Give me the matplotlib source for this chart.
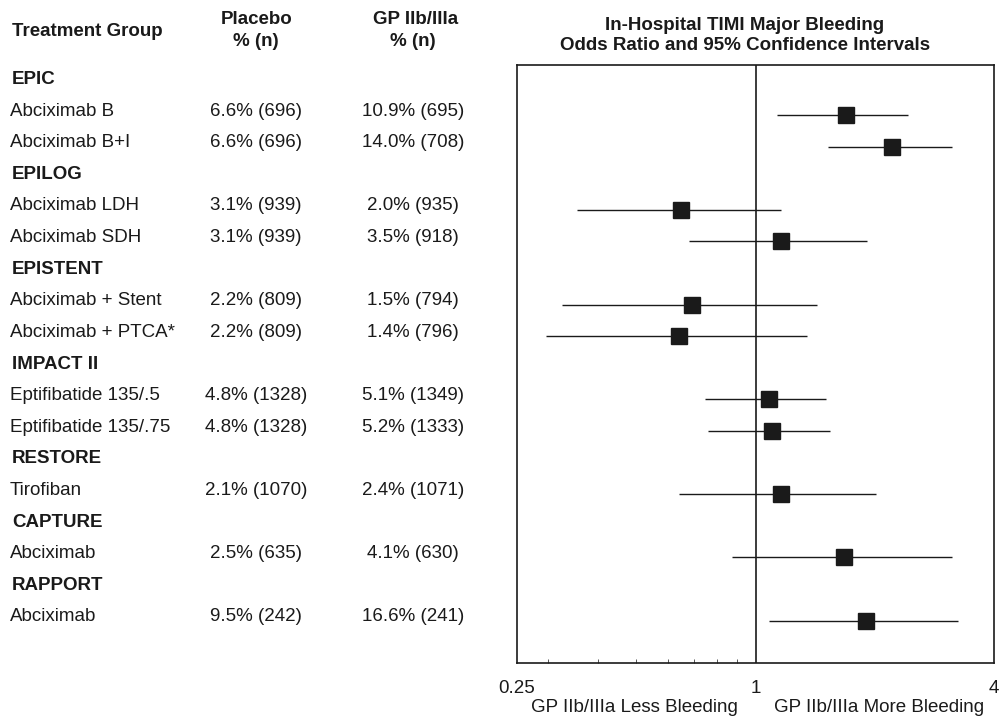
import numpy as np
import matplotlib.pyplot as plt
import matplotlib.transforms as mtransforms
from matplotlib.ticker import FixedLocator, NullFormatter

plt.rcParams['font.family'] = ['Liberation Sans', 'DejaVu Sans']

# rows of the table; group headers have no values
labels = ['EPIC', 'Abciximab B', 'Abciximab B+I',
          'EPILOG', 'Abciximab LDH', 'Abciximab SDH',
          'EPISTENT', 'Abciximab + Stent', 'Abciximab + PTCA*',
          'IMPACT II', 'Eptifibatide 135/.5', 'Eptifibatide 135/.75',
          'RESTORE', 'Tirofiban',
          'CAPTURE', 'Abciximab',
          'RAPPORT', 'Abciximab']
placebo = ['', '6.6% (696)', '6.6% (696)',
           '', '3.1% (939)', '3.1% (939)',
           '', '2.2% (809)', '2.2% (809)',
           '', '4.8% (1328)', '4.8% (1328)',
           '', '2.1% (1070)',
           '', '2.5% (635)',
           '', '9.5% (242)']
gp = ['', '10.9% (695)', '14.0% (708)',
      '', '2.0% (935)', '3.5% (918)',
      '', '1.5% (794)', '1.4% (796)',
      '', '5.1% (1349)', '5.2% (1333)',
      '', '2.4% (1071)',
      '', '4.1% (630)',
      '', '16.6% (241)']

# odds ratio and 95% CI
odds = np.array([np.nan, 1.69, 2.21, np.nan, 0.65, 1.16, np.nan, 0.69, 0.64,
                 np.nan, 1.08, 1.10, np.nan, 1.16, np.nan, 1.67, np.nan, 1.90])
ci_low = np.array([np.nan, 1.13, 1.52, np.nan, 0.355, 0.68, np.nan, 0.324, 0.296,
                   np.nan, 0.746, 0.76, np.nan, 0.641, np.nan, 0.87, np.nan, 1.08])
ci_high = np.array([np.nan, 2.43, 3.14, np.nan, 1.16, 1.91, np.nan, 1.43, 1.35,
                    np.nan, 1.51, 1.54, np.nan, 2.02, np.nan, 3.13, np.nan, 3.25])

W, H = 1000, 718
fs = 13.5
ink = '#1a1a1a'

fig = plt.figure(figsize=(W / 100, H / 100), dpi=100)
ax = fig.add_axes([517 / W, (H - 663) / H, (994 - 517) / W, (663 - 65) / H])

y = np.arange(len(labels))
m = ~np.isnan(odds)
ax.hlines(y[m], ci_low[m], ci_high[m], color=ink, lw=1.0)
ax.plot(odds[m], y[m], 's', ms=11, color=ink)
ax.axvline(1, color=ink, lw=1.2)

ax.set_xscale('log')
ax.set_xlim(0.25, 4)
ax.set_ylim(18.34, -0.58)
ax.set_yticks([])
ax.set_xticks([0.25, 1, 4])
ax.set_xticklabels(['0.25', '1', '4'])
ax.xaxis.set_minor_locator(FixedLocator([0.3, 0.4, 0.5, 0.6, 0.7, 0.8, 0.9]))
ax.xaxis.set_minor_formatter(NullFormatter())
ax.tick_params(axis='x', which='major', length=0, pad=12, labelsize=fs, colors=ink)
ax.tick_params(axis='x', which='minor', direction='in', length=3, width=0.7, color='#555555')
for s in ax.spines.values():
    s.set_linewidth(1.2)
    s.set_color(ink)

# table on the left, rows lined up with the plot
trans = mtransforms.blended_transform_factory(fig.transFigure, ax.transData)
for i, lab in enumerate(labels):
    yy = i - 0.12
    if placebo[i] == '':
        ax.text(0.012, yy, lab, transform=trans, fontsize=fs, fontweight='bold',
                va='center', ha='left', color=ink, clip_on=False)
    else:
        ax.text(0.010, yy, lab, transform=trans, fontsize=fs,
                va='center', ha='left', color=ink, clip_on=False)
        ax.text(0.256, yy, placebo[i], transform=trans, fontsize=fs,
                va='center', ha='center', color=ink, clip_on=False)
        ax.text(0.413, yy, gp[i], transform=trans, fontsize=fs,
                va='center', ha='center', color=ink, clip_on=False)

def fy(px):
    return (H - px) / H

fig.text(0.012, fy(31), 'Treatment Group', fontsize=fs, fontweight='bold', va='center', color=ink)
fig.text(0.257, fy(20), 'Placebo', fontsize=fs, fontweight='bold', va='center', ha='center', color=ink)
fig.text(0.256, fy(42), '% (n)', fontsize=fs, fontweight='bold', va='center', ha='center', color=ink)
fig.text(0.416, fy(20), 'GP IIb/IIIa', fontsize=fs, fontweight='bold', va='center', ha='center', color=ink)
fig.text(0.413, fy(42), '% (n)', fontsize=fs, fontweight='bold', va='center', ha='center', color=ink)
fig.text(0.745, fy(26), 'In-Hospital TIMI Major Bleeding', fontsize=fs, fontweight='bold',
         va='center', ha='center', color=ink)
fig.text(0.745, fy(45), 'Odds Ratio and 95% Confidence Intervals', fontsize=fs, fontweight='bold',
         va='center', ha='center', color=ink)

fig.text(0.634, fy(707), 'GP IIb/IIIa Less Bleeding', fontsize=fs, va='center', ha='center', color=ink)
fig.text(0.879, fy(707), 'GP IIb/IIIa More Bleeding', fontsize=fs, va='center', ha='center', color=ink)

fig.savefig('out.png', dpi=100)
